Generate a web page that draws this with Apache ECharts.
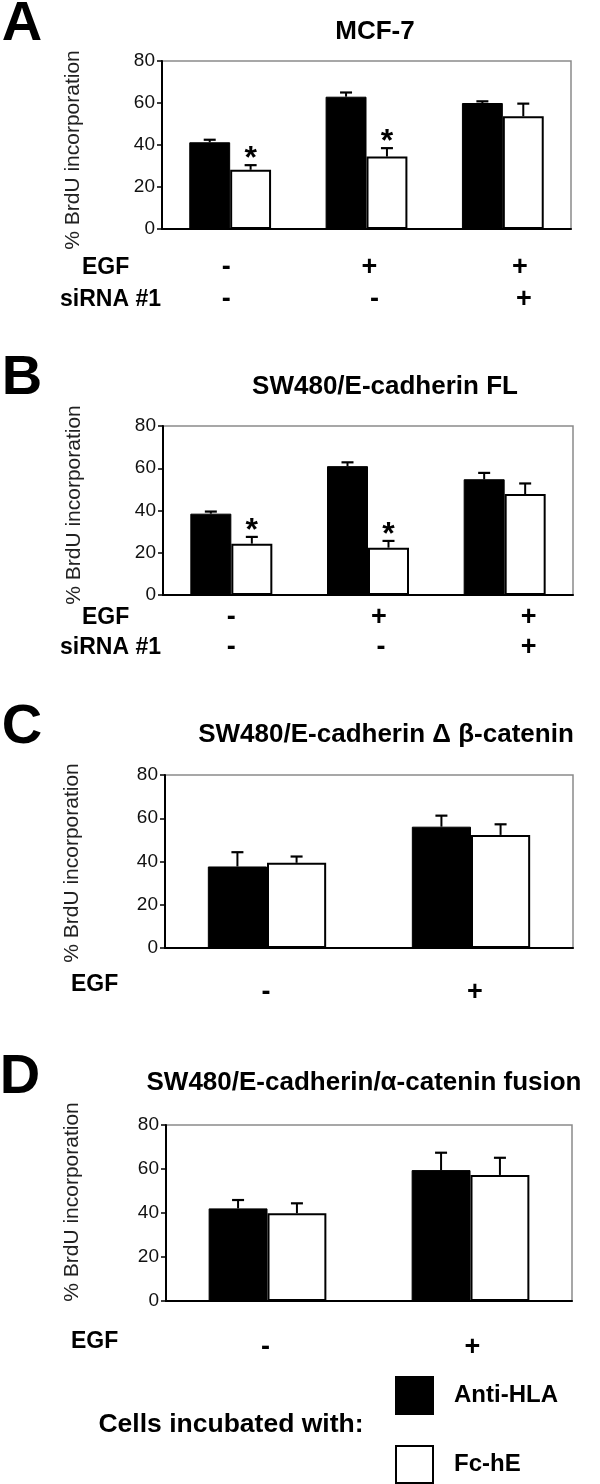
<!DOCTYPE html>
<html><head><meta charset="utf-8">
<script src="https://cdn.jsdelivr.net/npm/echarts@6/dist/echarts.min.js"></script>
<style>html,body{margin:0;padding:0;background:#fff}#c{width:600px;height:1484px}</style>
</head><body><div id="c"></div><script>
// ---------- DATA ----------
// Panel A: MCF-7
const titleA = 'MCF-7';
const catsA = ['EGF- siRNA-', 'EGF+ siRNA-', 'EGF+ siRNA+'];
const egfA = ['-', '+', '+'];
const sirnaA = ['-', '-', '+'];
const antiHLA_A = [41.3, 63, 60];
const antiHLA_A_err = [1.2, 2, 0.8];
const fcHE_A = [28.2, 34.5, 53.7];
const fcHE_A_err = [2.2, 4, 6];
const fcHE_A_sig = [1, 1, 0];

// Panel B: SW480/E-cadherin FL
const titleB = 'SW480/E-cadherin FL';
const catsB = ['EGF- siRNA-', 'EGF+ siRNA-', 'EGF+ siRNA+'];
const egfB = ['-', '+', '+'];
const sirnaB = ['-', '-', '+'];
const antiHLA_B = [38.5, 61, 54.8];
const antiHLA_B_err = [1, 1.8, 3];
const fcHE_B = [24.3, 22.4, 47.8];
const fcHE_B_err = [3.2, 3.2, 5];
const fcHE_B_sig = [1, 1, 0];

// Panel C: SW480/E-cadherin Δ β-catenin
const titleC = 'SW480/E-cadherin \u0394 \u03b2-catenin';
const catsC = ['EGF-', 'EGF+'];
const egfC = ['-', '+'];
const antiHLA_C = [37.7, 56.1];
const antiHLA_C_err = [6.6, 5.1];
const fcHE_C = [39.4, 52.3];
const fcHE_C_err = [2.9, 4.9];
const fcHE_C_sig = [0, 0];

// Panel D: SW480/E-cadherin/α-catenin fusion
const titleD = 'SW480/E-cadherin/\u03b1-catenin fusion';
const catsD = ['EGF-', 'EGF+'];
const egfD = ['-', '+'];
const antiHLA_D = [42.1, 59.5];
const antiHLA_D_err = [3.8, 7.9];
const fcHE_D = [39.9, 57.3];
const fcHE_D_err = [4.5, 7.8];
const fcHE_D_sig = [0, 0];

const yTicks = [0, 20, 40, 60, 80];
const yName = '% BrdU incorporation';
const seriesNames = ['Anti-HLA', 'Fc-hE'];
const legendCaption = 'Cells incubated with:';

// ---------- LAYOUT ----------
const FONT = "'Liberation Sans', Arial, sans-serif";
const panels = [
  { letter: 'A', title: titleA, cats: catsA, rows: [egfA, sirnaA], rowNames: ['EGF', 'siRNA #1'],
    a: antiHLA_A, ae: antiHLA_A_err, f: fcHE_A, fe: fcHE_A_err, sig: fcHE_A_sig,
    grid: { left: 162, top: 61, width: 409, height: 168 }, gap: 0.40,
    letterPos: [22, 25], titlePos: [375, 32], yNamePos: [73, 150],
    rowNamePos: [[82, 268], [60, 300]], margin: 23, lineH: 32,
    offsets: [[-4, 3, 17], [-4, 8, 21]] },
  { letter: 'B', title: titleB, cats: catsB, rows: [egfB, sirnaB], rowNames: ['EGF', 'siRNA #1'],
    a: antiHLA_B, ae: antiHLA_B_err, f: fcHE_B, fe: fcHE_B_err, sig: fcHE_B_sig,
    grid: { left: 163, top: 426, width: 410, height: 169 }, gap: 0.40,
    letterPos: [22, 379], titlePos: [385, 387], yNamePos: [74, 505],
    rowNamePos: [[82, 618], [60, 648]], margin: 8, lineH: 30,
    offsets: [[0, 11, 24], [0, 13, 24]] },
  { letter: 'C', title: titleC, cats: catsC, rows: [egfC], rowNames: ['EGF'],
    a: antiHLA_C, ae: antiHLA_C_err, f: fcHE_C, fe: fcHE_C_err, sig: fcHE_C_sig,
    grid: { left: 165, top: 775, width: 408, height: 173 }, gap: 0.42,
    letterPos: [22, 728], titlePos: [386, 735], yNamePos: [72, 863],
    rowNamePos: [[71, 985]], margin: 31, lineH: 28,
    offsets: [[-1, 4]] },
  { letter: 'D', title: titleD, cats: catsD, rows: [egfD], rowNames: ['EGF'],
    a: antiHLA_D, ae: antiHLA_D_err, f: fcHE_D, fe: fcHE_D_err, sig: fcHE_D_sig,
    grid: { left: 166, top: 1125, width: 406, height: 176 }, gap: 0.42,
    letterPos: [20, 1078], titlePos: [364, 1083], yNamePos: [72, 1202],
    rowNamePos: [[71, 1342]], margin: 33, lineH: 28,
    offsets: [[-2, 2]] }
];

function errRender(gapRatio) {
  return function (params, api) {
    const k = api.value(0), v = api.value(1), e = api.value(2), sig = api.value(3), side = api.value(4);
    const base = api.coord([k, v]);
    const cap = api.coord([k, v + e]);
    const band = api.size([1, 0])[0];
    const bw = band * (1 - gapRatio) / 2;
    const x = base[0] + side * bw / 2;
    const children = [
      { type: 'line', shape: { x1: x, y1: base[1], x2: x, y2: cap[1] }, style: { stroke: '#000', lineWidth: 2 } },
      { type: 'line', shape: { x1: x - 6, y1: cap[1], x2: x + 6, y2: cap[1] }, style: { stroke: '#000', lineWidth: 2.2 } }
    ];
    if (sig) {
      children.push({ type: 'text', x: x, y: cap[1] - 6,
        style: { text: '*', fontSize: 32, fontWeight: 'bold', fontFamily: FONT, fill: '#000', align: 'center', verticalAlign: 'middle' } });
    }
    return { type: 'group', children };
  };
}

const grids = [], xAxes = [], yAxes = [], series = [], graphics = [];
panels.forEach((p, i) => {
  grids.push(Object.assign({ show: true, borderColor: '#8a8a8a', borderWidth: 1.5, backgroundColor: 'transparent' }, p.grid));
  const rich = {};
  p.rows.forEach((row, r) => {
    row.forEach((s, c) => {
      const off = p.offsets[r][c];
      rich['r' + r + 'c' + c] = { fontSize: 27, fontWeight: 'bold', fontFamily: FONT, color: '#000', lineHeight: p.lineH,
        padding: off >= 0 ? [0, 0, 0, 2 * off] : [0, -2 * off, 0, 0] };
    });
  });
  xAxes.push({
    type: 'category', gridIndex: i, data: p.cats,
    axisLine: { show: true, lineStyle: { color: '#000', width: 2 } },
    axisTick: { show: false },
    axisLabel: {
      interval: 0, margin: p.margin, rich,
      formatter: (val, idx) => p.rows.map((row, r) => '{r' + r + 'c' + idx + '|' + row[idx] + '}').join('\n')
    }
  });
  yAxes.push({
    type: 'value', gridIndex: i, min: yTicks[0], max: yTicks[yTicks.length - 1], interval: yTicks[1] - yTicks[0],
    splitLine: { show: false },
    axisLine: { show: true, lineStyle: { color: '#000', width: 2 } },
    axisTick: { show: true, length: 5, lineStyle: { color: '#000', width: 1.5 } },
    axisLabel: { fontSize: 19, fontFamily: FONT, color: '#111', margin: 7 }
  });
  series.push({
    type: 'bar', name: seriesNames[0], xAxisIndex: i, yAxisIndex: i, data: p.a,
    barGap: '0%', barCategoryGap: (p.gap * 100) + '%',
    itemStyle: { color: '#000', borderColor: '#000', borderWidth: 1 }, silent: true, z: 2
  });
  series.push({
    type: 'bar', name: seriesNames[1], xAxisIndex: i, yAxisIndex: i, data: p.f,
    barGap: '0%', barCategoryGap: (p.gap * 100) + '%',
    itemStyle: { color: '#fff', borderColor: '#000', borderWidth: 2 }, silent: true, z: 2
  });
  series.push({
    type: 'custom', name: 'errA' + i, xAxisIndex: i, yAxisIndex: i, z: 5, silent: true,
    encode: { x: 0, y: 1 }, renderItem: errRender(p.gap),
    data: p.a.map((v, k) => [k, v, p.ae[k], 0, -1])
  });
  series.push({
    type: 'custom', name: 'errF' + i, xAxisIndex: i, yAxisIndex: i, z: 5, silent: true,
    encode: { x: 0, y: 1 }, renderItem: errRender(p.gap),
    data: p.f.map((v, k) => [k, v, p.fe[k], p.sig[k], 1])
  });
  graphics.push({ type: 'text', x: p.letterPos[0], y: p.letterPos[1],
    style: { text: p.letter, fontSize: 56, fontWeight: 'bold', fontFamily: FONT, fill: '#000', align: 'center', verticalAlign: 'middle' } });
  graphics.push({ type: 'text', x: p.titlePos[0], y: p.titlePos[1],
    style: { text: p.title, fontSize: 26, fontWeight: 'bold', fontFamily: FONT, fill: '#000', align: 'center', verticalAlign: 'middle' } });
  graphics.push({ type: 'text', x: p.yNamePos[0], y: p.yNamePos[1], rotation: Math.PI / 2,
    style: { text: yName, fontSize: 21, fontFamily: FONT, fill: '#222', align: 'center', verticalAlign: 'middle' } });
  p.rowNames.forEach((n, r) => {
    graphics.push({ type: 'text', x: p.rowNamePos[r][0], y: p.rowNamePos[r][1],
      style: { text: n, fontSize: 23, fontWeight: 'bold', fontFamily: FONT, fill: '#000', align: 'left', verticalAlign: 'middle' } });
  });
});
graphics.push({ type: 'text', x: 231, y: 1425,
  style: { text: legendCaption, fontSize: 26.5, fontWeight: 'bold', fontFamily: FONT, fill: '#000', align: 'center', verticalAlign: 'middle' } });

const legendBase = {
  orient: 'vertical', left: 395, padding: 0,
  itemWidth: 37, itemHeight: 37, icon: 'rect', selectedMode: false,
  itemStyle: { borderColor: '#000', borderWidth: 2 },
  textStyle: { fontSize: 24, fontWeight: 'bold', fontFamily: FONT, color: '#000', padding: [0, 0, 0, 16] }
};

const chart = echarts.init(document.getElementById('c'), null, { renderer: 'canvas' });
chart.setOption({
  animation: false,
  backgroundColor: '#fff',
  grid: grids, xAxis: xAxes, yAxis: yAxes, series,
  legend: [
    Object.assign({}, legendBase, { data: [seriesNames[0]], top: 1376 }),
    Object.assign({}, legendBase, { data: [seriesNames[1]], top: 1445 })
  ],
  graphic: graphics
});
</script></body></html>
